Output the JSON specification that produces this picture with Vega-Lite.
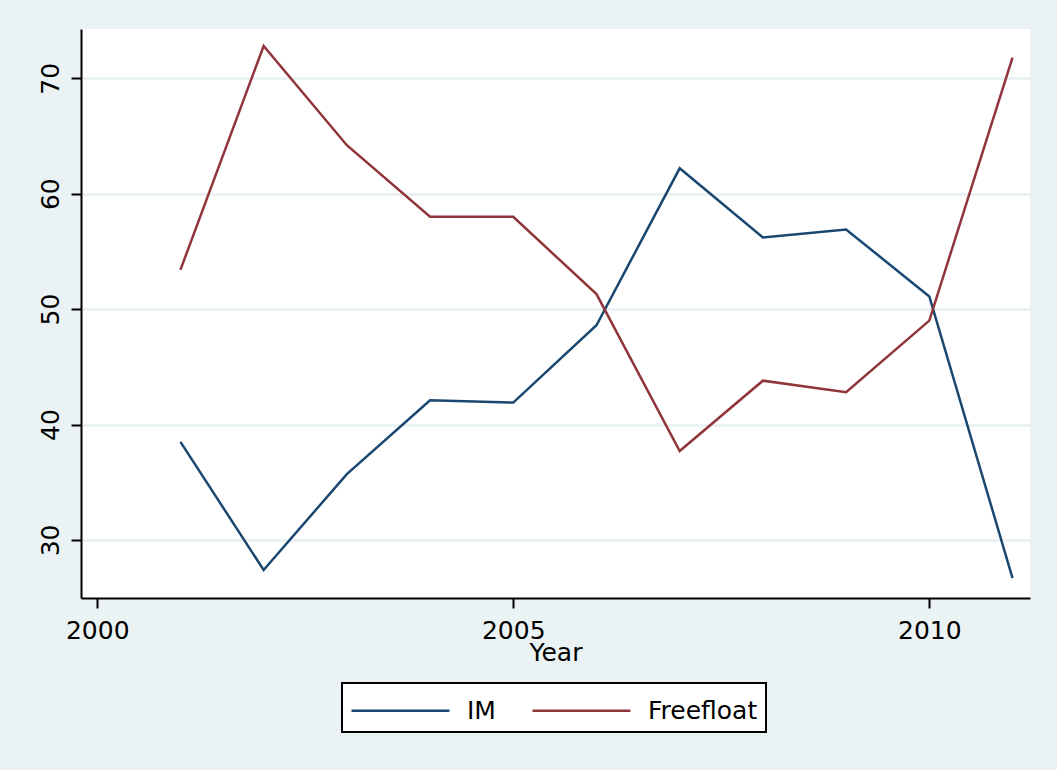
{
  "$schema": "https://vega.github.io/schema/vega-lite/v6.json",
  "width": 949,
  "height": 569,
  "autosize": {"type": "none"},
  "padding": {"left": 81, "top": 29, "right": 27, "bottom": 172},
  "background": "#eaf2f3",
  "config": {
    "font": "DejaVu Sans",
    "view": {"fill": "white", "stroke": null},
    "legend": {"strokeWidth": 2}
  },
  "data": {
    "values": [
      {"Year": 2001, "series": "IM", "value": 38.5},
      {"Year": 2002, "series": "IM", "value": 27.4},
      {"Year": 2003, "series": "IM", "value": 35.7},
      {"Year": 2004, "series": "IM", "value": 42.1},
      {"Year": 2005, "series": "IM", "value": 41.9},
      {"Year": 2006, "series": "IM", "value": 48.6},
      {"Year": 2007, "series": "IM", "value": 62.2},
      {"Year": 2008, "series": "IM", "value": 56.2},
      {"Year": 2009, "series": "IM", "value": 56.9},
      {"Year": 2010, "series": "IM", "value": 51.1},
      {"Year": 2011, "series": "IM", "value": 26.7},
      {"Year": 2001, "series": "Freefloat", "value": 53.4},
      {"Year": 2002, "series": "Freefloat", "value": 72.8},
      {"Year": 2003, "series": "Freefloat", "value": 64.2},
      {"Year": 2004, "series": "Freefloat", "value": 58.0},
      {"Year": 2005, "series": "Freefloat", "value": 58.0},
      {"Year": 2006, "series": "Freefloat", "value": 51.3},
      {"Year": 2007, "series": "Freefloat", "value": 37.7},
      {"Year": 2008, "series": "Freefloat", "value": 43.8},
      {"Year": 2009, "series": "Freefloat", "value": 42.8},
      {"Year": 2010, "series": "Freefloat", "value": 49.0},
      {"Year": 2011, "series": "Freefloat", "value": 71.8}
    ]
  },
  "mark": {"type": "line", "strokeWidth": 2.5},
  "encoding": {
    "x": {
      "field": "Year",
      "type": "quantitative",
      "scale": {"domain": [1999.805, 2011.21], "nice": false, "zero": false},
      "axis": {
        "values": [2000, 2005, 2010],
        "format": "d",
        "grid": false,
        "domainColor": "black",
        "domainWidth": 2,
        "tickColor": "black",
        "tickWidth": 2,
        "tickSize": 10,
        "labelFontSize": 25,
        "labelColor": "black",
        "labelBaseline": "alphabetic",
        "labelPadding": 30,
        "title": "Year",
        "titleFontSize": 25,
        "titleFontWeight": "normal",
        "titleColor": "black",
        "titleBaseline": "alphabetic",
        "titleY": 62
      }
    },
    "y": {
      "field": "value",
      "type": "quantitative",
      "scale": {"domain": [24.97, 74.27], "nice": false, "zero": false},
      "axis": {
        "values": [30, 40, 50, 60, 70],
        "grid": true,
        "gridColor": "#e8f0f2",
        "gridWidth": 2.5,
        "domainColor": "black",
        "domainWidth": 2,
        "tickColor": "black",
        "tickWidth": 2,
        "tickSize": 10,
        "labelFontSize": 25,
        "labelColor": "black",
        "labelAngle": -90,
        "labelAlign": "center",
        "labelBaseline": "alphabetic",
        "labelPadding": 13,
        "title": null
      }
    },
    "color": {
      "field": "series",
      "type": "nominal",
      "scale": {"domain": ["IM", "Freefloat"], "range": ["#1a476f", "#90353b"]},
      "legend": {
        "title": null,
        "orient": "none",
        "legendX": 261,
        "legendY": 654,
        "direction": "horizontal",
        "symbolType": "M-1,0H4.44",
        "symbolSize": 1296,
        "symbolStrokeWidth": 2.5,
        "symbolFillColor": "transparent",
        "labelFontSize": 25,
        "labelColor": "black",
        "labelOffset": 78,
        "columnPadding": 31,
        "padding": 8,
        "strokeColor": "black",
        "fillColor": "white"
      }
    }
  }
}
